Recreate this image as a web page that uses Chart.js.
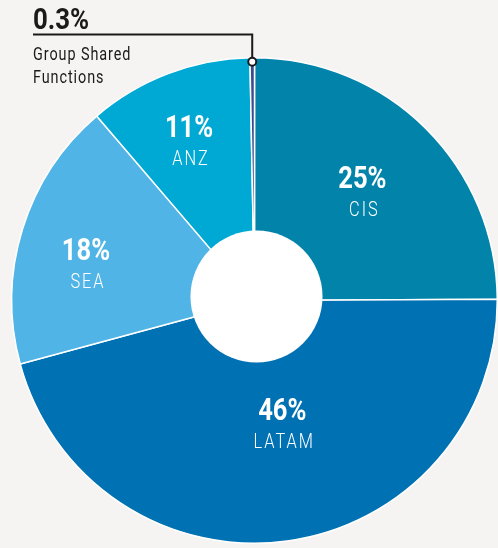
<!DOCTYPE html>
<html>
<head>
<meta charset="utf-8">
<script src="https://cdn.jsdelivr.net/npm/chart.js@4/dist/chart.umd.min.js"></script>
<style>
  html, body { margin: 0; padding: 0; background: #f5f4f2; }
  canvas { display: block; }
</style>
</head>
<body>
<canvas id="c" width="498" height="548"></canvas>
<script>
const categories = ["CIS", "LATAM", "SEA", "ANZ", "Group Shared Functions"];
const shareValues = [25, 46, 18, 11, 0.3];
const percentLabels = ["25%", "46%", "18%", "11%", "0.3%"];
const sliceColors = ["#0284aa", "#0071b2", "#50b4e6", "#00a9d4", "#3e4a8e"];

const FONT = 'Roboto, "DejaVu Sans", sans-serif';

// label placement tuning (fraction of outer radius, angle offset in degrees)
const labelRadius = [0.63, 0.52, 0.71, 0.71];
const labelAngleOffset = [0, -5, -5, -1.5];

function drawText(ctx, text, x, y, font, scaleX, spacing, align) {
  ctx.save();
  ctx.font = font;
  ctx.letterSpacing = spacing + 'px';
  ctx.textAlign = 'left';
  ctx.textBaseline = 'alphabetic';
  const w = (ctx.measureText(text).width - spacing) * scaleX;
  let left = x;
  if (align === 'center') left = x - w / 2;
  ctx.translate(left, y);
  ctx.scale(scaleX, 1);
  ctx.fillText(text, 0, 0);
  ctx.restore();
}

const labelPlugin = {
  id: 'labels',
  afterDatasetsDraw(chart) {
    const ctx = chart.ctx;
    const meta = chart.getDatasetMeta(0);
    const arc0 = meta.data[0];
    const cx = arc0.x, cy = arc0.y;
    const outer = arc0.outerRadius;
    // white hole
    ctx.save();
    ctx.beginPath();
    ctx.arc(cx + 2, cy - 4, outer * 0.272, 0, Math.PI * 2);
    ctx.fillStyle = '#ffffff';
    ctx.fill();
    ctx.restore();

    // slice labels
    ctx.save();
    ctx.fillStyle = '#ffffff';
    for (let i = 0; i < 4; i++) {
      const a = meta.data[i];
      const mid = (a.startAngle + a.endAngle) / 2 + labelAngleOffset[i] * Math.PI / 180;
      const r = outer * labelRadius[i];
      const x = cx + Math.cos(mid) * r;
      const y = cy + Math.sin(mid) * r;
      drawText(ctx, percentLabels[i], x, y - 4, 'bold 32px ' + FONT, 0.8, 0, 'center');
      drawText(ctx, categories[i], x + 1, y + 24, '300 21px ' + FONT, 0.78, 2.5, 'center');
    }
    ctx.restore();

    // callout for the small slice
    const g = meta.data[4];
    const gm = (g.startAngle + g.endAngle) / 2;
    const mx = cx + Math.cos(gm) * (outer - 1);
    const my = cy + Math.sin(gm) * (outer - 1) + 3;
    const lineY = 34.5;
    const textX = 33;
    ctx.save();
    ctx.strokeStyle = '#1a1a1a';
    ctx.lineWidth = 2;
    ctx.beginPath();
    ctx.moveTo(textX, lineY);
    ctx.lineTo(mx, lineY);
    ctx.lineTo(mx, my);
    ctx.stroke();
    ctx.beginPath();
    ctx.arc(mx, my, 4, 0, Math.PI * 2);
    ctx.fillStyle = '#ffffff';
    ctx.fill();
    ctx.stroke();
    ctx.fillStyle = '#1a1a1a';
    drawText(ctx, percentLabels[4], textX, 29, 'bold 30px ' + FONT, 0.86, 0, 'left');
    drawText(ctx, 'Group Shared', textX, 60, '400 19px ' + FONT, 0.76, 1.2, 'left');
    drawText(ctx, 'Functions', textX, 83, '400 19px ' + FONT, 0.76, 1.2, 'left');
    ctx.restore();
  }
};

new Chart(document.getElementById('c'), {
  type: 'doughnut',
  data: {
    labels: categories,
    datasets: [{
      data: shareValues,
      backgroundColor: sliceColors,
      borderColor: '#ffffff',
      borderWidth: 1.5,
      hoverOffset: 0
    }]
  },
  options: {
    responsive: false,
    animation: false,
    cutout: '20%',
    rotation: 0,
    layout: { padding: { left: 11, right: 0, top: 56, bottom: 3 } },
    plugins: {
      legend: { display: false },
      tooltip: { enabled: false }
    },
    events: []
  },
  plugins: [labelPlugin]
});
</script>
</body>
</html>
